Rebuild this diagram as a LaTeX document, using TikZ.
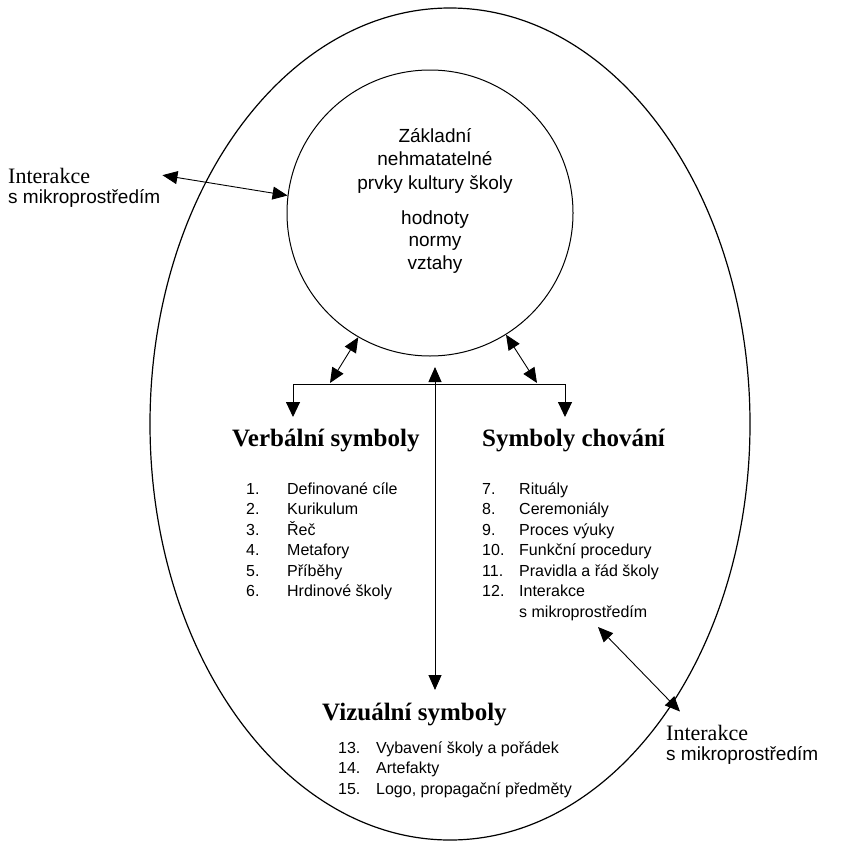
\documentclass[tikz,border=0pt]{standalone}
\usepackage{fontspec}
\setmainfont{Liberation Serif}
\setsansfont{Liberation Sans}
\usetikzlibrary{arrows.meta, positioning}

\begin{document}
\begin{tikzpicture}[
    x=1pt, y=-1pt,
    symhead/.style={inner sep=0pt, anchor=base west, font=\fontsize{25}{30}\selectfont\bfseries},
    symlist/.style={inner sep=0pt, anchor=base west, font=\sffamily\fontsize{16}{20.5}\selectfont},
    sidenote/.style={inner sep=0pt, anchor=base west, font=\sffamily\fontsize{19}{16}\selectfont},
    coretext/.style={inner sep=0pt, anchor=base, font=\sffamily\fontsize{19}{#1}\selectfont},
    arrow/.style={-{Triangle[length=15pt, width=14pt]}, line width=0.9pt},
    dblarrow/.style={{Triangle[length=15pt, width=13pt]}-{Triangle[length=15pt, width=13pt]}, line width=0.9pt}
]
\useasboundingbox (0,0) rectangle (845,843);

\draw[line width=1.2pt] (450,424) ellipse [x radius=300pt, y radius=416pt];
\node[draw, circle, line width=1pt, minimum size=286pt, inner sep=0pt] (core) at (430,213) {};

\node[coretext=23.5] (title) at (435,142) {\begin{tabular}[t]{@{}c@{}}Základní\\nehmatatelné\\prvky kultury školy\end{tabular}};
\node[coretext=22.5] (values) at (435,224) {\begin{tabular}[t]{@{}c@{}}hodnoty\\normy\\vztahy\end{tabular}};

\node[symhead] (verb) at (232,446) {Verbální symboly};
\node[symhead] (chov) at (482,446) {Symboly chování};
\node[symhead] (viz) at (322,720) {Vizuální symboly};

\node[symlist] (verblist) at (246,494) {\begin{tabular}[t]{@{}p{41pt}@{}l@{}}
1. & Definované cíle\\
2. & Kurikulum\\
3. & Řeč\\
4. & Metafory\\
5. & Příběhy\\
6. & Hrdinové školy
\end{tabular}};
\node[symlist] (chovlist) at (482,494) {\begin{tabular}[t]{@{}p{37pt}@{}l@{}}
7. & Rituály\\
8. & Ceremoniály\\
9. & Proces výuky\\
10. & Funkční procedury\\
11. & Pravidla a řád školy\\
12. & Interakce\\
 & s mikroprostředím
\end{tabular}};
\node[symlist] (vizlist) at (338,753) {\begin{tabular}[t]{@{}p{38pt}@{}l@{}}
13. & Vybavení školy a pořádek\\
14. & Artefakty\\
15. & Logo, propagační předměty
\end{tabular}};

\node[sidenote] (intl) at (8,183) {\begin{tabular}[t]{@{}l@{}}{\rmfamily\fontsize{22}{24}\selectfont Interakce}\\[2pt]s mikroprostředím\end{tabular}};
\node[sidenote] (intr) at (666,740) {\begin{tabular}[t]{@{}l@{}}{\rmfamily\fontsize{22}{24}\selectfont Interakce}\\[2pt]s mikroprostředím\end{tabular}};

\coordinate (jl) at (293,384);
\coordinate (jr) at (565,384);
\coordinate (jlm) at (330,383);
\coordinate (jrm) at (537,383);
\coordinate (jc) at (435,367);
\coordinate (l12) at (598,627);

\draw[line width=0.9pt] (jl) -- (jr);
\draw[arrow] (jl) -- ++(0,33);
\draw[arrow] (jr) -- ++(0,33);
\draw[dblarrow] (core.240) -- (jlm);
\draw[dblarrow] (core.302) -- (jrm);
\draw[dblarrow] (jc) -- ++(0,323);
\draw[dblarrow] ([shift={(2pt,13pt)}]intl.east) -- (core.173);
\draw[dblarrow] (l12) -- ([shift={(14pt,13pt)}]intr.north west);

\end{tikzpicture}
\end{document}
